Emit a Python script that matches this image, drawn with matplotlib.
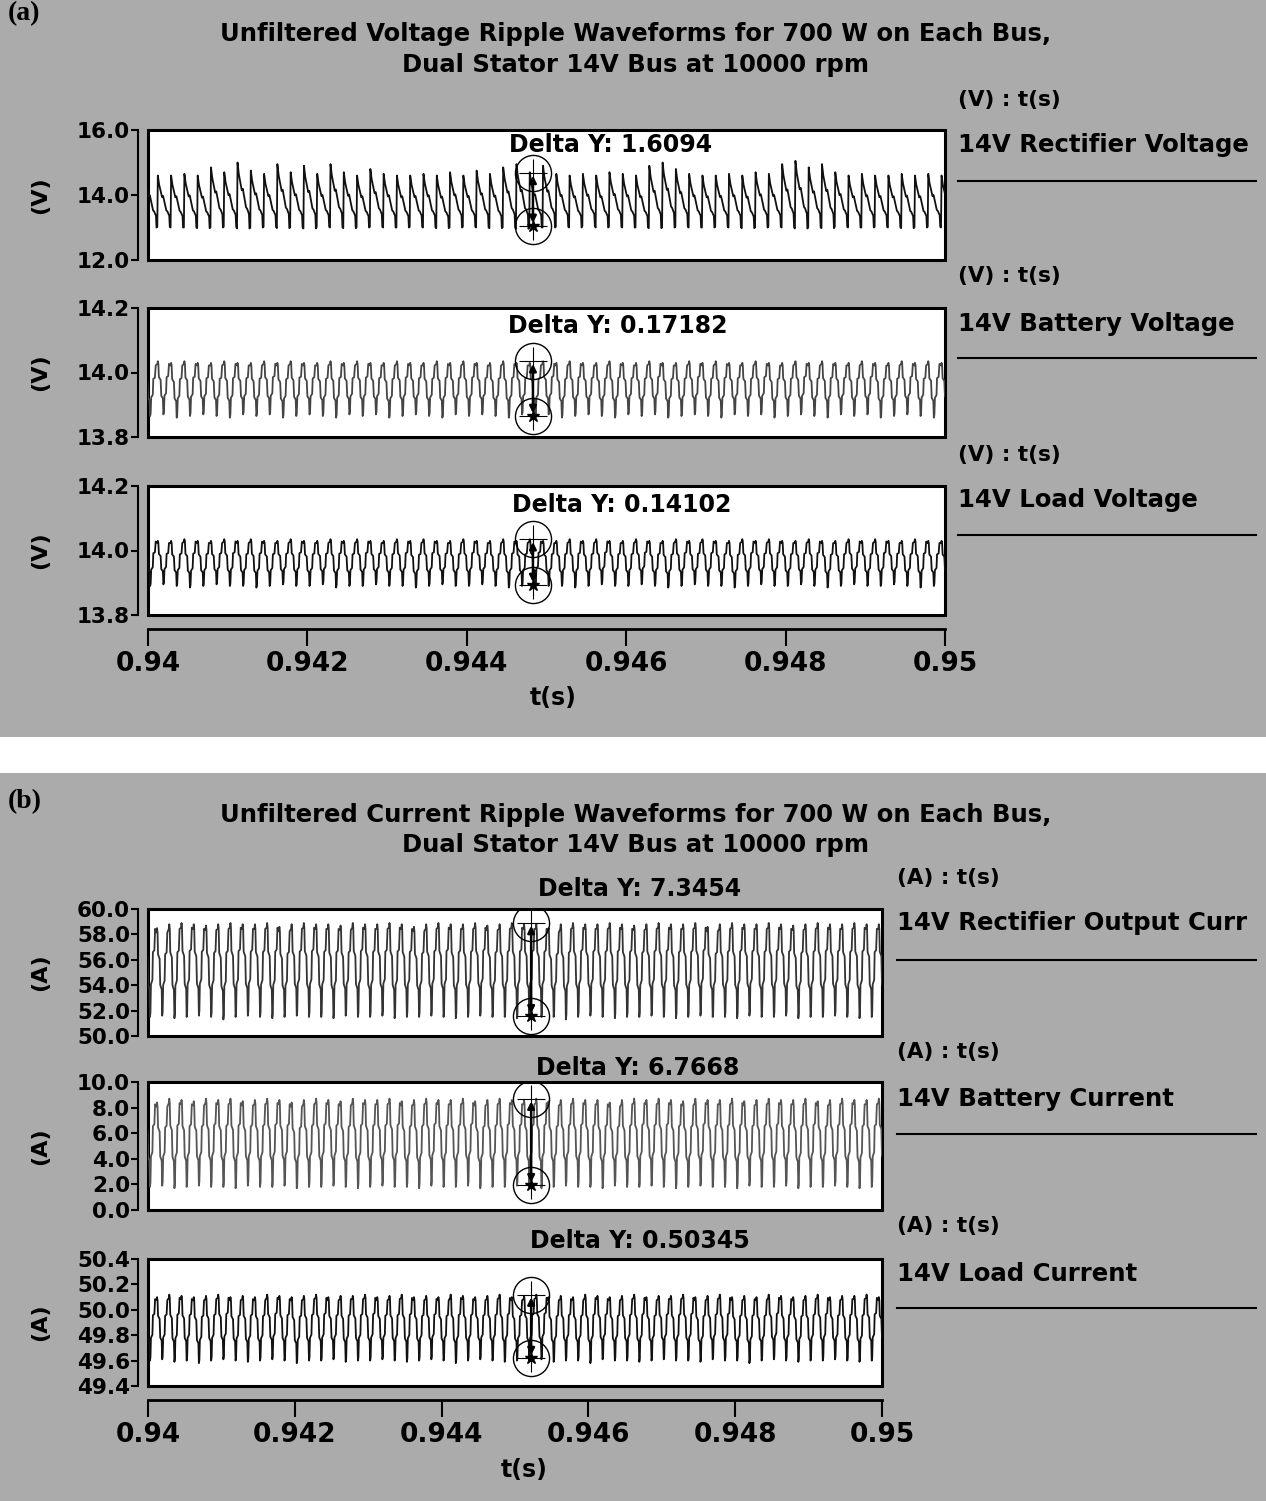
import numpy as np
import matplotlib.pyplot as plt
from matplotlib.patches import Rectangle

W, H = 1266, 1501

# ---------------- data ----------------
t_start, t_end = 0.94, 0.95
x_ticks = [0.94, 0.942, 0.944, 0.946, 0.948, 0.95]
x_ticklabels = ['0.94', '0.942', '0.944', '0.946', '0.948', '0.95']

# (a) voltages, peak / trough of every ripple cycle
rect_v_peak = [14.65, 14.6, 14.6, 14.65, 14.6, 14.85, 14.7, 15.0, 14.75, 14.65,
               14.95, 14.7, 14.9, 14.65, 14.95, 14.7, 14.6, 14.8, 14.65, 14.6,
               14.6, 14.65, 14.6, 14.7, 14.6, 14.75, 14.65, 14.85, 14.95, 14.7,
               14.9, 14.65, 14.6, 14.65, 14.6, 14.7, 14.65, 14.6, 14.9, 15.0,
               14.8, 14.65, 14.6, 14.6, 14.65, 14.6, 14.7, 14.65, 14.95, 15.05,
               14.85, 14.95, 14.7, 14.6, 14.65, 14.6, 14.6, 14.65, 14.6, 14.65, 14.6]
rect_v_trough = [13.0, 13.02, 13.0, 13.0, 12.98, 13.0, 13.02, 12.97, 13.0, 13.02,
                 12.98, 13.0, 12.97, 13.02, 13.0, 12.98, 13.0, 13.02, 13.0, 13.0,
                 13.02, 13.0, 12.98, 13.0, 13.02, 13.0, 12.98, 13.0, 12.96, 13.0,
                 13.0, 13.02, 13.0, 13.05, 13.0, 13.02, 13.0, 13.0, 12.98, 13.0,
                 13.02, 13.0, 13.0, 13.02, 13.0, 12.98, 13.0, 13.02, 13.0, 12.97,
                 13.0, 12.98, 13.02, 13.0, 13.0, 13.02, 13.0, 12.98, 13.0, 13.02, 13.0]
batt_v_peak = [14.03, 14.035, 14.03, 14.035, 14.03, 14.03, 14.035, 14.03, 14.03, 14.035,
               14.03, 14.035, 14.03, 14.03, 14.035, 14.03, 14.035, 14.03, 14.03, 14.035,
               14.03, 14.03, 14.035, 14.03, 14.035, 14.03, 14.03, 14.035, 14.03, 14.03,
               14.035, 14.03, 14.035, 14.03, 14.03, 14.035, 14.03, 14.03, 14.035, 14.03,
               14.03, 14.035, 14.03, 14.035, 14.03, 14.03, 14.035, 14.03, 14.03, 14.035,
               14.03, 14.035, 14.03, 14.03, 14.035, 14.03, 14.03, 14.035, 14.03, 14.035, 14.03]
batt_v_trough = [13.865, 13.87, 13.86, 13.865, 13.87, 13.865, 13.86, 13.87, 13.865, 13.87,
                 13.86, 13.865, 13.87, 13.865, 13.86, 13.87, 13.865, 13.87, 13.86, 13.865,
                 13.87, 13.865, 13.86, 13.87, 13.865, 13.87, 13.865, 13.86, 13.87, 13.865,
                 13.87, 13.86, 13.865, 13.87, 13.865, 13.86, 13.87, 13.865, 13.87, 13.86,
                 13.865, 13.87, 13.865, 13.86, 13.87, 13.865, 13.87, 13.86, 13.865, 13.87,
                 13.865, 13.86, 13.87, 13.865, 13.87, 13.86, 13.865, 13.87, 13.865, 13.86, 13.87]
load_v_peak = [14.035, 14.03, 14.03, 14.035, 14.03, 14.03, 14.035, 14.03, 14.035, 14.03,
               14.03, 14.035, 14.03, 14.03, 14.035, 14.03, 14.035, 14.03, 14.03, 14.035,
               14.03, 14.035, 14.03, 14.03, 14.035, 14.03, 14.03, 14.035, 14.03, 14.035,
               14.03, 14.03, 14.035, 14.03, 14.035, 14.03, 14.03, 14.035, 14.03, 14.03,
               14.035, 14.03, 14.035, 14.03, 14.03, 14.035, 14.03, 14.035, 14.03, 14.03,
               14.035, 14.03, 14.03, 14.035, 14.03, 14.035, 14.03, 14.03, 14.035, 14.03, 14.03]
load_v_trough = [13.89, 13.895, 13.89, 13.885, 13.89, 13.895, 13.89, 13.89, 13.885, 13.89,
                 13.895, 13.89, 13.89, 13.895, 13.885, 13.89, 13.89, 13.895, 13.89, 13.89,
                 13.885, 13.89, 13.895, 13.89, 13.89, 13.895, 13.89, 13.885, 13.89, 13.895,
                 13.89, 13.89, 13.885, 13.89, 13.895, 13.89, 13.89, 13.895, 13.89, 13.885,
                 13.89, 13.895, 13.89, 13.89, 13.885, 13.89, 13.895, 13.89, 13.89, 13.895,
                 13.89, 13.885, 13.89, 13.895, 13.89, 13.89, 13.895, 13.89, 13.885, 13.89, 13.89]

# (b) currents
rect_i_peak = [58.8, 58.5, 58.8, 58.9, 58.8, 58.7, 58.8, 58.9, 58.8, 58.8,
               58.9, 58.6, 58.8, 58.9, 58.8, 58.8, 58.7, 58.9, 58.8, 58.8,
               58.9, 58.8, 58.6, 58.8, 58.9, 58.8, 58.8, 58.9, 58.7, 58.8,
               58.9, 58.8, 58.8, 58.5, 58.8, 58.9, 58.8, 58.8, 58.9, 58.8,
               58.7, 58.8, 58.9, 58.8, 58.8, 58.9, 58.6, 58.8, 58.9, 58.8,
               58.8, 58.9, 58.8, 58.7, 58.8, 58.9, 58.8, 58.8, 58.9, 58.8, 58.8]
rect_i_trough = [51.5, 51.6, 51.4, 51.5, 51.6, 51.5, 51.3, 51.5, 51.6, 51.5,
                 51.4, 51.5, 51.6, 51.5, 51.5, 51.4, 51.6, 51.5, 51.5, 51.6,
                 51.4, 51.5, 51.5, 51.6, 51.5, 51.4, 51.5, 51.6, 51.5, 51.5,
                 51.4, 51.6, 51.5, 51.5, 51.3, 51.5, 51.6, 51.5, 51.4, 51.5,
                 51.5, 51.6, 51.5, 51.4, 51.5, 51.6, 51.5, 51.5, 51.4, 51.6,
                 51.5, 51.5, 51.6, 51.4, 51.5, 51.5, 51.6, 51.5, 51.4, 51.5, 51.6]
batt_i_peak = [8.6, 8.4, 8.7, 8.6, 8.5, 8.7, 8.6, 8.7, 8.5, 8.6,
               8.7, 8.6, 8.4, 8.6, 8.7, 8.6, 8.5, 8.7, 8.6, 8.6,
               8.7, 8.5, 8.6, 8.7, 8.6, 8.6, 8.7, 8.5, 8.6, 8.7,
               8.6, 8.6, 8.7, 8.5, 8.6, 8.7, 8.6, 8.6, 8.4, 8.6,
               8.7, 8.6, 8.7, 8.6, 8.5, 8.7, 8.6, 8.6, 8.7, 8.5,
               8.6, 8.7, 8.6, 8.6, 8.7, 8.5, 8.6, 8.7, 8.6, 8.6, 8.7]
batt_i_trough = [1.8, 1.9, 1.7, 1.8, 1.9, 1.8, 1.8, 1.7, 1.9, 1.8,
                 1.8, 1.9, 1.7, 1.8, 1.8, 1.9, 1.8, 1.7, 1.8, 1.9,
                 1.8, 1.8, 1.7, 1.9, 1.8, 1.8, 1.9, 1.7, 1.8, 1.8,
                 1.9, 1.8, 1.7, 1.8, 1.9, 1.8, 1.8, 1.7, 1.9, 1.8,
                 1.8, 1.9, 1.8, 1.7, 1.8, 1.9, 1.8, 1.8, 1.7, 1.9,
                 1.8, 1.8, 1.9, 1.7, 1.8, 1.8, 1.9, 1.8, 1.7, 1.8, 1.9]
load_i_peak = [50.11, 50.1, 50.12, 50.11, 50.1, 50.11, 50.12, 50.1, 50.11, 50.1,
               50.12, 50.11, 50.1, 50.11, 50.12, 50.1, 50.11, 50.11, 50.12, 50.1,
               50.11, 50.12, 50.1, 50.11, 50.1, 50.12, 50.11, 50.1, 50.11, 50.12,
               50.1, 50.11, 50.12, 50.1, 50.11, 50.1, 50.12, 50.11, 50.1, 50.11,
               50.12, 50.1, 50.11, 50.11, 50.12, 50.1, 50.11, 50.12, 50.1, 50.11,
               50.1, 50.12, 50.11, 50.1, 50.11, 50.12, 50.1, 50.11, 50.11, 50.12, 50.1]
load_i_trough = [49.6, 49.61, 49.59, 49.6, 49.58, 49.6, 49.61, 49.6, 49.59, 49.6,
                 49.61, 49.6, 49.58, 49.6, 49.6, 49.61, 49.59, 49.6, 49.6, 49.61,
                 49.6, 49.59, 49.6, 49.61, 49.6, 49.58, 49.6, 49.61, 49.6, 49.59,
                 49.6, 49.6, 49.61, 49.59, 49.6, 49.6, 49.58, 49.61, 49.6, 49.6,
                 49.59, 49.6, 49.61, 49.6, 49.6, 49.59, 49.61, 49.6, 49.6, 49.58,
                 49.6, 49.61, 49.6, 49.59, 49.6, 49.6, 49.61, 49.6, 49.59, 49.6, 49.61]

# shape of one ripple cycle (phase within cycle, fraction of peak-to-trough)
saw_phase = [0.00, 0.04, 0.14, 0.36, 0.44, 0.68, 0.76, 0.90, 0.94]
saw_level = [0.00, 1.00, 0.82, 0.58, 0.60, 0.32, 0.30, 0.22, 0.00]
step_phase = [0.00, 0.04, 0.08, 0.12, 0.25, 0.30, 0.42, 0.46, 0.50, 0.54, 0.66, 0.70, 0.82, 0.88]
step_level = [0.95, 1.00, 0.95, 0.70, 0.65, 0.35, 0.30, 0.00, 0.05, 0.35, 0.40, 0.70, 0.72, 0.95]

# cursor readouts
cursor_t_a = 0.94483
cursor_t_b = 0.94522
cursor_top = [14.68, 14.035, 14.035, 58.9, 8.7, 50.12]
cursor_bot = [13.05, 13.865, 13.893, 51.55, 1.93, 49.62]
delta_labels = ['Delta Y: 1.6094', 'Delta Y: 0.17182', 'Delta Y: 0.14102',
                'Delta Y: 7.3454', 'Delta Y: 6.7668', 'Delta Y: 0.50345']
trace_names = ['14V Rectifier Voltage', '14V Battery Voltage', '14V Load Voltage',
               '14V Rectifier Output Curr', '14V Battery Current', '14V Load Current']
y_ticks = [[12.0, 14.0, 16.0], [13.8, 14.0, 14.2], [13.8, 14.0, 14.2],
           [50.0, 52.0, 54.0, 56.0, 58.0, 60.0], [0.0, 2.0, 4.0, 6.0, 8.0, 10.0],
           [49.4, 49.6, 49.8, 50.0, 50.2, 50.4]]

title_lines = [['Unfiltered Voltage Ripple Waveforms for 700 W on Each Bus,',
                'Dual Stator 14V Bus at 10000 rpm'],
               ['Unfiltered Current Ripple Waveforms for 700 W on Each Bus,',
                'Dual Stator 14V Bus at 10000 rpm']]


def build(peaks, troughs, ph, lv, t0, period):
    t, v = [], []
    for k, (hi, lo) in enumerate(zip(peaks, troughs)):
        t.extend(t0 + (k + np.array(ph)) * period)
        v.extend(lo + np.array(lv) * (hi - lo))
    return np.array(t), np.array(v)


fig = plt.figure(figsize=(W / 100, H / 100), dpi=100)
fig.patch.set_facecolor('white')
bg = '#ababab'
fig.patches.append(Rectangle((0, 1 - 737 / H), 1, 737 / H, transform=fig.transFigure,
                             facecolor=bg, edgecolor='none', zorder=-10))
fig.patches.append(Rectangle((0, 0), 1, 1 - 773 / H, transform=fig.transFigure,
                             facecolor=bg, edgecolor='none', zorder=-10))


def px_axes(x0, y0, x1, y1):
    return fig.add_axes([x0 / W, 1 - y1 / H, (x1 - x0) / W, (y1 - y0) / H])


def ftext(x, y, s, **kw):
    fig.text(x / W, 1 - y / H, s, **kw)


period = (t_end - t_start) / 60
traces = [(rect_v_peak, rect_v_trough, saw_phase, saw_level),
          (batt_v_peak, batt_v_trough, step_phase, step_level),
          (load_v_peak, load_v_trough, step_phase, step_level),
          (rect_i_peak, rect_i_trough, step_phase, step_level),
          (batt_i_peak, batt_i_trough, step_phase, step_level),
          (load_i_peak, load_i_trough, step_phase, step_level)]
line_colors = ['#111111', '#444444', '#111111', '#333333', '#555555', '#111111']

# pixel boxes of the six plotting areas
boxes = [(148, 130, 945, 260), (148, 308, 945, 437), (148, 486, 945, 615),
         (148, 909, 882, 1036), (148, 1082, 882, 1210), (148, 1259, 882, 1386)]
legend_y = [(100, 145, 181), (276, 324, 358), (455, 500, 535),
            (878, 923, 960), (1052, 1099, 1134), (1226, 1274, 1308)]
delta_pos = [(611, 145), (618, 326), (622, 505), (640, 889), (638, 1068), (640, 1241)]
units = ['(V)', '(V)', '(V)', '(A)', '(A)', '(A)']

for i, (x0, y0, x1, y1) in enumerate(boxes):
    ax = px_axes(x0, y0, x1, y1)
    # spine placement first: moving a spine resets its ticks
    for s in ['top', 'right', 'bottom']:
        ax.spines[s].set_visible(False)
    ax.spines['left'].set_position(('outward', 7))
    ax.spines['left'].set_linewidth(1.5)
    if i in (2, 5):
        ax.spines['bottom'].set_visible(True)
        ax.spines['bottom'].set_position(('outward', 10))
        ax.spines['bottom'].set_linewidth(2)
    ax.patch.set_edgecolor('black')
    ax.patch.set_linewidth(2.2)

    pk, tr, ph, lv = traces[i]
    t, v = build(pk, tr, ph, lv, t_start - 0.3 * period, period)
    ax.plot(t, v, color=line_colors[i], lw=1.3)
    yt = y_ticks[i]
    ax.set_ylim(yt[0], yt[-1])
    ax.set_xlim(t_start, t_end)
    ax.set_yticks(yt)
    ax.set_yticklabels(['%.1f' % y for y in yt], fontsize=15.5, fontweight='bold')
    ax.tick_params(axis='y', length=5, width=1.5, pad=1)
    if i in (2, 5):
        ax.set_xticks(x_ticks)
        ax.set_xticklabels(x_ticklabels, fontsize=19, fontweight='bold')
        ax.tick_params(axis='x', length=12, width=1.5, pad=4)
    else:
        ax.set_xticks([])

    # cursor markers
    ct = cursor_t_a if i < 3 else cursor_t_b
    ax.annotate('', xy=(ct, cursor_bot[i]), xytext=(ct, cursor_top[i]),
                arrowprops=dict(arrowstyle='<|-|>', color='black', lw=1.8,
                                mutation_scale=10))
    for yv in (cursor_top[i], cursor_bot[i]):
        ax.plot([ct], [yv], marker='o', ms=26, mfc='none', mec='black', mew=1.0)
        ax.plot([ct], [yv], marker='+', ms=20, mec='black', mew=0.8, ls='none')
    ax.plot([ct], [cursor_bot[i]], marker='*', ms=9, color='black')

    # delta readout
    ftext(delta_pos[i][0], delta_pos[i][1], delta_labels[i], fontsize=17,
          fontweight='bold', ha='center', va='center')
    # unit label
    ftext(40, (y0 + y1) / 2, units[i], fontsize=16, fontweight='bold',
          rotation=90, ha='center', va='center')
    # legend on the right
    lx = 958 if i < 3 else 897
    ftext(lx, legend_y[i][0], units[i] + ' : t(s)', fontsize=15.5, fontweight='bold',
          ha='left', va='center')
    ftext(lx, legend_y[i][1], trace_names[i], fontsize=17.6, fontweight='bold',
          ha='left', va='center')
    fig.add_artist(plt.Line2D([lx / W, 1256 / W], [1 - legend_y[i][2] / H] * 2,
                              color='black', lw=1.5))

# titles, panel letters, x labels
for ys, lines in zip([(34, 65), (815, 845)], title_lines):
    for yy, s in zip(ys, lines):
        ftext(636, yy, s, fontsize=17.5, fontweight='bold', ha='center', va='center')
ftext(8, 14, '(a)', fontsize=20, fontweight='bold', family='Liberation Serif',
      ha='left', va='center')
ftext(8, 802, '(b)', fontsize=20, fontweight='bold', family='Liberation Serif',
      ha='left', va='center')
ftext(553, 698, 't(s)', fontsize=17, fontweight='bold', ha='center', va='center')
ftext(524, 1470, 't(s)', fontsize=17, fontweight='bold', ha='center', va='center')

fig.savefig('out.png', dpi=100)
